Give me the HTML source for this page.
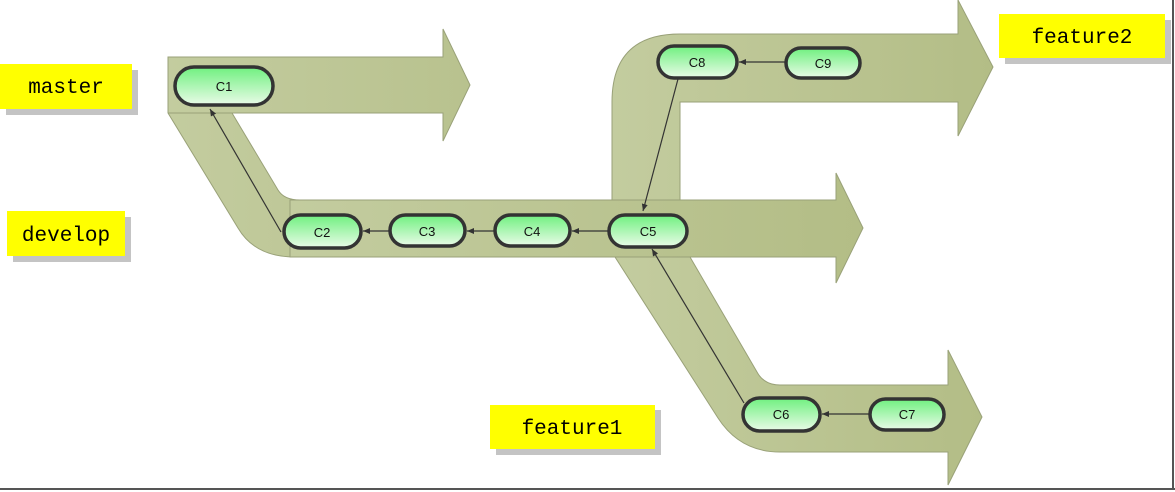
<!DOCTYPE html>
<html><head><meta charset="utf-8"><style>
html,body{margin:0;padding:0;background:#fff;}
svg{display:block;}
.lbl{font-family:"Liberation Mono","Noto Serif CJK SC",monospace;font-size:21px;fill:#000;}
.nd{font-family:"Liberation Sans",sans-serif;font-size:13px;fill:#111;}
</style></head><body>
<svg width="1175" height="492" viewBox="0 0 1175 492" xmlns="http://www.w3.org/2000/svg">
<defs>
<linearGradient id="g" x1="0" y1="0" x2="1" y2="0">
<stop offset="0" stop-color="#c3cc9f"/><stop offset="1" stop-color="#b3bd86"/>
</linearGradient>
<linearGradient id="n" x1="0" y1="0" x2="0" y2="1">
<stop offset="0" stop-color="#6ff07f"/><stop offset="1" stop-color="#eafbe8"/>
</linearGradient>
<marker id="a" markerWidth="8" markerHeight="8" refX="7" refY="4" orient="auto" markerUnits="userSpaceOnUse">
<path d="M0,1 L7,4 L0,7 z" fill="#333"/></marker>
</defs>
<rect x="0" y="0" width="1175" height="492" fill="#fff"/>
<line x1="0" y1="489" x2="1175" y2="489" stroke="#555" stroke-width="2"/>
<line x1="1173" y1="0" x2="1173" y2="489" stroke="#555" stroke-width="2"/>

<g fill="url(#g)" stroke="#99a178" stroke-width="1">
<!-- feature2 -->
<path d="M612,200 L612,102 Q612,34 680,34 L958,34 L958,0 L993,67 L958,136 L958,102 L680,102 L680,205 Z"/>
<!-- master + diagonal to develop -->
<path d="M168,57 L443,57 L443,29 L470,85 L443,141 L443,113 L232,113 L278,190 Q284,200 300,200 L620,200 L620,257 L295,257 Q255,257 238,228 L168,113 Z"/>
<!-- develop -->
<path d="M290,200 L836,200 L836,173 L863,228 L836,283 L836,257 L290,257 Z"/>
<!-- feature1 -->
<path d="M615,257 L690,257 L757,372 Q764,385 780,385 L948,385 L948,350 L982,417 L948,485 L948,452 L780,452 Q740,452 718,418 Z"/>
</g>
<line x1="168" y1="113" x2="232" y2="113" stroke="#99a178"/>

<!-- connectors -->
<g stroke="#333" stroke-width="1.2" fill="none" marker-end="url(#a)">
<line x1="281" y1="232" x2="210" y2="109"/>
<line x1="390" y1="231" x2="363" y2="231"/>
<line x1="495" y1="231" x2="467" y2="231"/>
<line x1="608" y1="231" x2="572" y2="231"/>
<line x1="678" y1="79" x2="643" y2="211"/>
<line x1="785" y1="62" x2="739" y2="62"/>
<line x1="744" y1="403" x2="652" y2="249"/>
<line x1="870" y1="414" x2="822" y2="414"/>
</g>

<!-- nodes -->
<g stroke="#333" stroke-width="3.5" fill="url(#n)">
<rect x="175" y="67" width="98" height="38" rx="19"/>
<rect x="284" y="215" width="77" height="33" rx="16.5"/>
<rect x="390" y="215" width="75" height="31" rx="15.5"/>
<rect x="495" y="215" width="75" height="31" rx="15.5"/>
<rect x="609" y="215" width="78" height="32" rx="16"/>
<rect x="658" y="46" width="79" height="32" rx="16"/>
<rect x="786" y="48" width="74" height="30" rx="15"/>
<rect x="743" y="398" width="77" height="33" rx="16.5"/>
<rect x="870" y="399" width="74" height="31" rx="15.5"/>
</g>
<g class="nd" text-anchor="middle">
<text x="224" y="91">C1</text>
<text x="322" y="237">C2</text>
<text x="427" y="236">C3</text>
<text x="532" y="236">C4</text>
<text x="648" y="236">C5</text>
<text x="697" y="67">C8</text>
<text x="823" y="68">C9</text>
<text x="781" y="419">C6</text>
<text x="907" y="419">C7</text>
</g>

<!-- labels -->
<rect x="6" y="70" width="132" height="45" fill="#c4c4c4"/>
<rect x="0" y="64" width="132" height="45" fill="#ffff00"/>
<text class="lbl" x="66" y="93" text-anchor="middle">master</text>
<rect x="13" y="217" width="118" height="45" fill="#c4c4c4"/>
<rect x="7" y="211" width="118" height="45" fill="#ffff00"/>
<text class="lbl" x="66" y="241" text-anchor="middle">develop</text>
<rect x="496" y="410" width="165" height="45" fill="#c4c4c4"/>
<rect x="490" y="405" width="165" height="44" fill="#ffff00"/>
<text class="lbl" x="572" y="434" text-anchor="middle">feature1</text>
<rect x="1005" y="20" width="166" height="44" fill="#c4c4c4"/>
<rect x="999" y="14" width="166" height="44" fill="#ffff00"/>
<text class="lbl" x="1082" y="43" text-anchor="middle">feature2</text>
</svg>
</body></html>
